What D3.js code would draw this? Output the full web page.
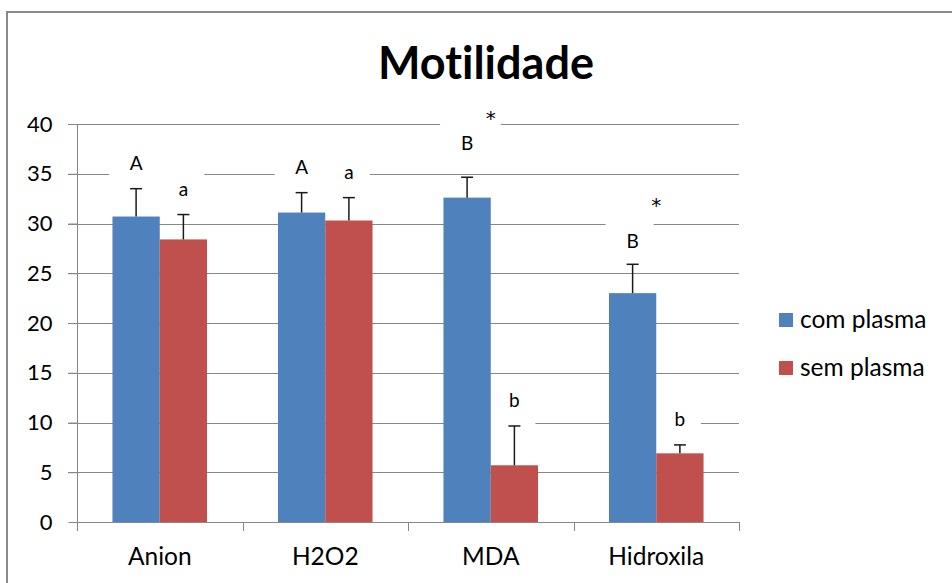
<!DOCTYPE html>
<html>
<head>
<meta charset="utf-8">
<script src="https://cdn.jsdelivr.net/npm/d3@7"></script>
<style>
  body { margin: 0; background: #fff; }
  svg { display: block; font-family: Lato, "Open Sans", sans-serif; font-variant-ligatures: none; }
</style>
</head>
<body>
<svg id="chart" width="952" height="583"></svg>
<script>
// values
const categories = ["Anion", "H2O2", "MDA", "Hidroxila"]
const seriesNames = ["com plasma", "sem plasma"]
const comPlasma = [30.7, 31.1, 32.6, 23.0]
const semPlasma = [28.4, 30.3, 5.7, 6.9]
const comPlasmaErr = [2.8, 2.0, 2.05, 2.9]
const semPlasmaErr = [2.5, 2.3, 3.95, 0.85]
const comLetters = ["A", "A", "B", "B"]
const semLetters = ["a", "a", "b", "b"]
const stars = ["", "", "*", "*"]
const yTicks = [0, 5, 10, 15, 20, 25, 30, 35, 40]

const colors = ["#4F81BD", "#C0504D"]
const gridColor = "#878787"

const svg = d3.select("#chart")

const x = d3.scaleBand()
    .domain(categories)
    .range([77, 739])
    .paddingInner(1.5 / 3.5)
    .paddingOuter(0.75 / 3.5)

const xSub = d3.scaleBand()
    .domain(seriesNames)
    .range([0, x.bandwidth()])

const y = d3.scaleLinear()
    .domain([0, 40])
    .range([522, 124])

const rows = categories.map((c, i) => ({
    cat: c,
    vals: [
        { s: seriesNames[0], v: comPlasma[i], e: comPlasmaErr[i], letter: comLetters[i], k: 0 },
        { s: seriesNames[1], v: semPlasma[i], e: semPlasmaErr[i], letter: semLetters[i], k: 1 }
    ],
    star: stars[i]
}))

// outer frame
svg.append("path")
    .attr("d", "M7,583 V12 H952")
    .attr("fill", "none")
    .attr("stroke", "#8a8a8a")
    .attr("stroke-width", 2)

// title
svg.append("text")
    .attr("x", 486)
    .attr("y", 79)
    .attr("text-anchor", "middle")
    .attr("font-size", 45)
    .attr("font-weight", "bold")
    .attr("fill", "#000")
    .text("Motilidade")

// gridlines
svg.append("g")
    .selectAll("line")
    .data(yTicks.filter(d => d > 0))
    .enter().append("line")
    .attr("x1", 68)
    .attr("x2", 739)
    .attr("y1", d => Math.round(y(d)) + 0.5)
    .attr("y2", d => Math.round(y(d)) + 0.5)
    .attr("stroke", gridColor)

// white boxes behind the labels, hiding the gridlines there
const labelNudge = [[0, 0], [0, 0], [-8, 0], [3, 0]]
const boxes = svg.append("g")
const labels = svg.append("g")
    .attr("font-size", 19)
    .attr("fill", "#000")
    .attr("text-anchor", "middle")

rows.forEach((r, i) => {
    r.vals.forEach(d => {
        const cx = x(r.cat) + xSub(d.s) + xSub.bandwidth() / 2
        const cy = y(d.v + d.e) - 26 + labelNudge[i][d.k]
        boxes.append("rect")
            .attr("x", cx - 27)
            .attr("y", cy - 25)
            .attr("width", 48)
            .attr("height", 50)
            .attr("fill", "#fff")
        labels.append("text")
            .attr("x", cx)
            .attr("y", cy + 7)
            .text(d.letter)
    })
    if (r.star) {
        const cx = x(r.cat) + x.bandwidth() / 2
        const cy = y(d3.max(r.vals, d => d.v + d.e)) - 64
        boxes.append("rect")
            .attr("x", cx - 10)
            .attr("y", cy - 10)
            .attr("width", 20)
            .attr("height", 25)
            .attr("fill", "#fff")
        labels.append("text")
            .attr("x", cx)
            .attr("y", cy + 12)
            .attr("font-family", "DejaVu Sans, sans-serif")
            .attr("font-size", 20)
            .text(r.star)
    }
})

// bars
const groups = svg.append("g")
    .selectAll("g")
    .data(rows)
    .enter().append("g")
    .attr("transform", d => `translate(${x(d.cat)},0)`)

groups.selectAll("rect")
    .data(d => d.vals)
    .enter().append("rect")
    .attr("x", d => xSub(d.s))
    .attr("width", xSub.bandwidth())
    .attr("y", d => y(d.v))
    .attr("height", d => y(0) - y(d.v))
    .attr("fill", d => colors[d.k])

// error bars (upper only)
const err = groups.selectAll("g.err")
    .data(d => d.vals)
    .enter().append("g")
    .attr("class", "err")
    .attr("stroke", "#1a1a1a")
    .attr("stroke-width", 1.5)

err.append("line")
    .attr("x1", d => xSub(d.s) + xSub.bandwidth() / 2)
    .attr("x2", d => xSub(d.s) + xSub.bandwidth() / 2)
    .attr("y1", d => y(d.v))
    .attr("y2", d => y(d.v + d.e))

err.append("line")
    .attr("x1", d => xSub(d.s) + xSub.bandwidth() / 2 - 6)
    .attr("x2", d => xSub(d.s) + xSub.bandwidth() / 2 + 6)
    .attr("y1", d => y(d.v + d.e))
    .attr("y2", d => y(d.v + d.e))

// y axis
const yAxis = svg.append("g")
    .attr("transform", "translate(77.5,0)")
    .call(d3.axisLeft(y).tickValues(yTicks).tickSize(9).tickPadding(16))
yAxis.select(".domain").attr("stroke", gridColor).attr("d", "M0,124V531")
yAxis.selectAll(".tick line").attr("stroke", gridColor)
yAxis.selectAll(".tick text")
    .attr("font-size", 22)
    .attr("font-family", "Lato, sans-serif")
    .attr("fill", "#000")

// x axis
svg.append("line")
    .attr("x1", 77).attr("x2", 739)
    .attr("y1", 522.5).attr("y2", 522.5)
    .attr("stroke", gridColor)

const step = x.step()
svg.append("g")
    .selectAll("line")
    .data(d3.range(categories.length + 1))
    .enter().append("line")
    .attr("x1", i => Math.round(77 + i * step) + 0.5)
    .attr("x2", i => Math.round(77 + i * step) + 0.5)
    .attr("y1", 522)
    .attr("y2", 531)
    .attr("stroke", gridColor)

svg.append("g")
    .selectAll("text")
    .data(categories)
    .enter().append("text")
    .attr("x", d => x(d) + x.bandwidth() / 2)
    .attr("y", 565)
    .attr("text-anchor", "middle")
    .attr("font-size", 24.5)
    .attr("fill", "#000")
    .text(d => d)

// legend
const legend = svg.append("g")
    .selectAll("g")
    .data(seriesNames)
    .enter().append("g")
    .attr("transform", (d, i) => `translate(779,${313 + i * 48})`)

legend.append("rect")
    .attr("width", 14)
    .attr("height", 14)
    .attr("fill", (d, i) => colors[i])

legend.append("text")
    .attr("x", 21)
    .attr("y", 15)
    .attr("font-size", 24.5)
    .attr("fill", "#000")
    .text(d => d)
</script>
</body>
</html>
